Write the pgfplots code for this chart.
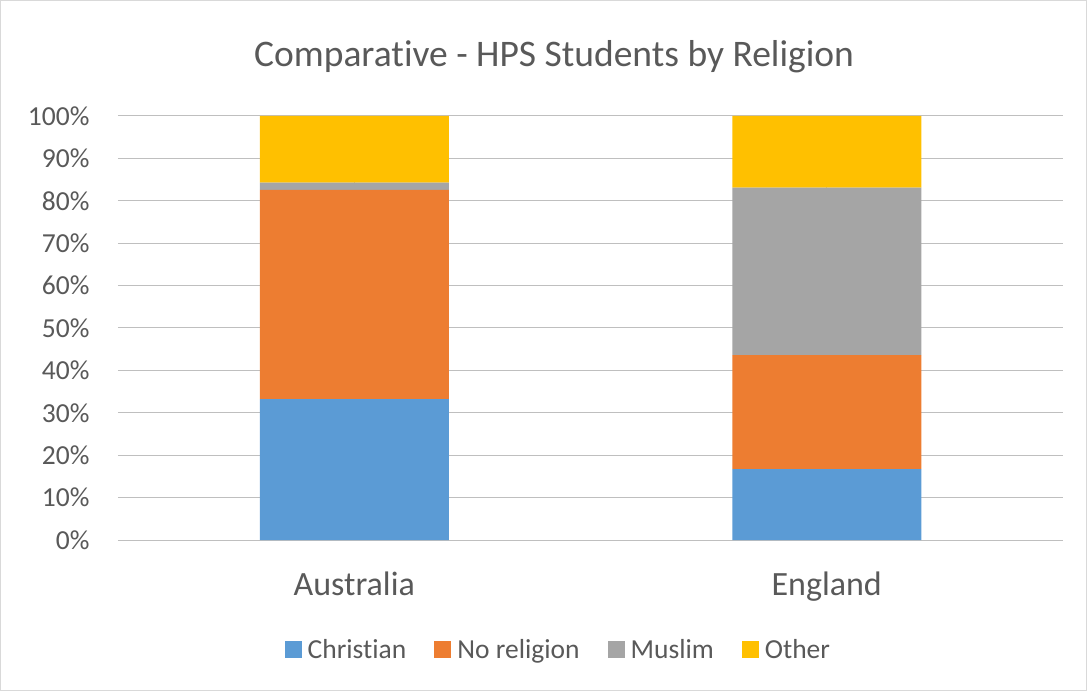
\documentclass[border=0pt]{standalone}
\usepackage{pgfplots}
\pgfplotsset{compat=1.18}
\usepackage{fontspec}
\setmainfont[Ligatures=NoCommon]{Carlito}
\definecolor{txt}{HTML}{595959}
\definecolor{grid}{HTML}{D9D9D9}
\definecolor{cChr}{HTML}{5B9BD5}
\definecolor{cNo}{HTML}{ED7D31}
\definecolor{cMus}{HTML}{A5A5A5}
\definecolor{cOth}{HTML}{FFC000}
\begin{document}
\begin{tikzpicture}[x=1pt,y=1pt]
\draw[grid, line width=1pt, use as bounding box] (0.5,0.5) rectangle (1086.5,690.5);
\node[text=txt, font=\fontsize{37.5}{42}\selectfont] at (554,634) {Comparative - HPS Students by Religion};
\begin{axis}[
  at={(118pt,151pt)}, anchor=south west,
  scale only axis, width=945pt, height=424pt,
  ybar stacked, bar width=0.4,
  xmin=-0.5, xmax=1.5, ymin=0, ymax=100,
  xtick={0,1}, xticklabels={Australia,England},
  ytick={0,10,...,100},
  yticklabel={\pgfmathprintnumber{\tick}\%},
  /pgf/number format/assume math mode=true,
  ymajorgrids, grid style={grid, line width=1pt},
  axis line style={draw=none},
  major tick length=0pt,
  tick label style={text=txt},
  yticklabel style={font=\fontsize{27.5}{30}\selectfont, xshift=-25pt},
  xticklabel style={font=\fontsize{34}{38}\selectfont, yshift=-28pt},
  legend columns=4,
  legend style={draw=none, at={(0.466,-0.259)}, anchor=center,
    font=\fontsize{27.5}{30}\selectfont, text=txt,
    /tikz/every odd column/.append style={column sep=4pt},
    /tikz/every even column/.append style={column sep=26pt}},
  sq/.style={draw=none, fill=#1,
    legend image code/.code={\fill[#1] (0pt,-8.5pt) rectangle (17pt,8.5pt);}},
]
\addplot[sq=cChr] coordinates {(0,33.2) (1,16.7)};
\addplot[sq=cNo] coordinates {(0,49.4) (1,26.9)};
\addplot[sq=cMus] coordinates {(0,1.7) (1,39.5)};
\addplot[sq=cOth] coordinates {(0,15.7) (1,16.9)};
\legend{Christian,No religion,Muslim,Other}
\end{axis}
\end{tikzpicture}
\end{document}
